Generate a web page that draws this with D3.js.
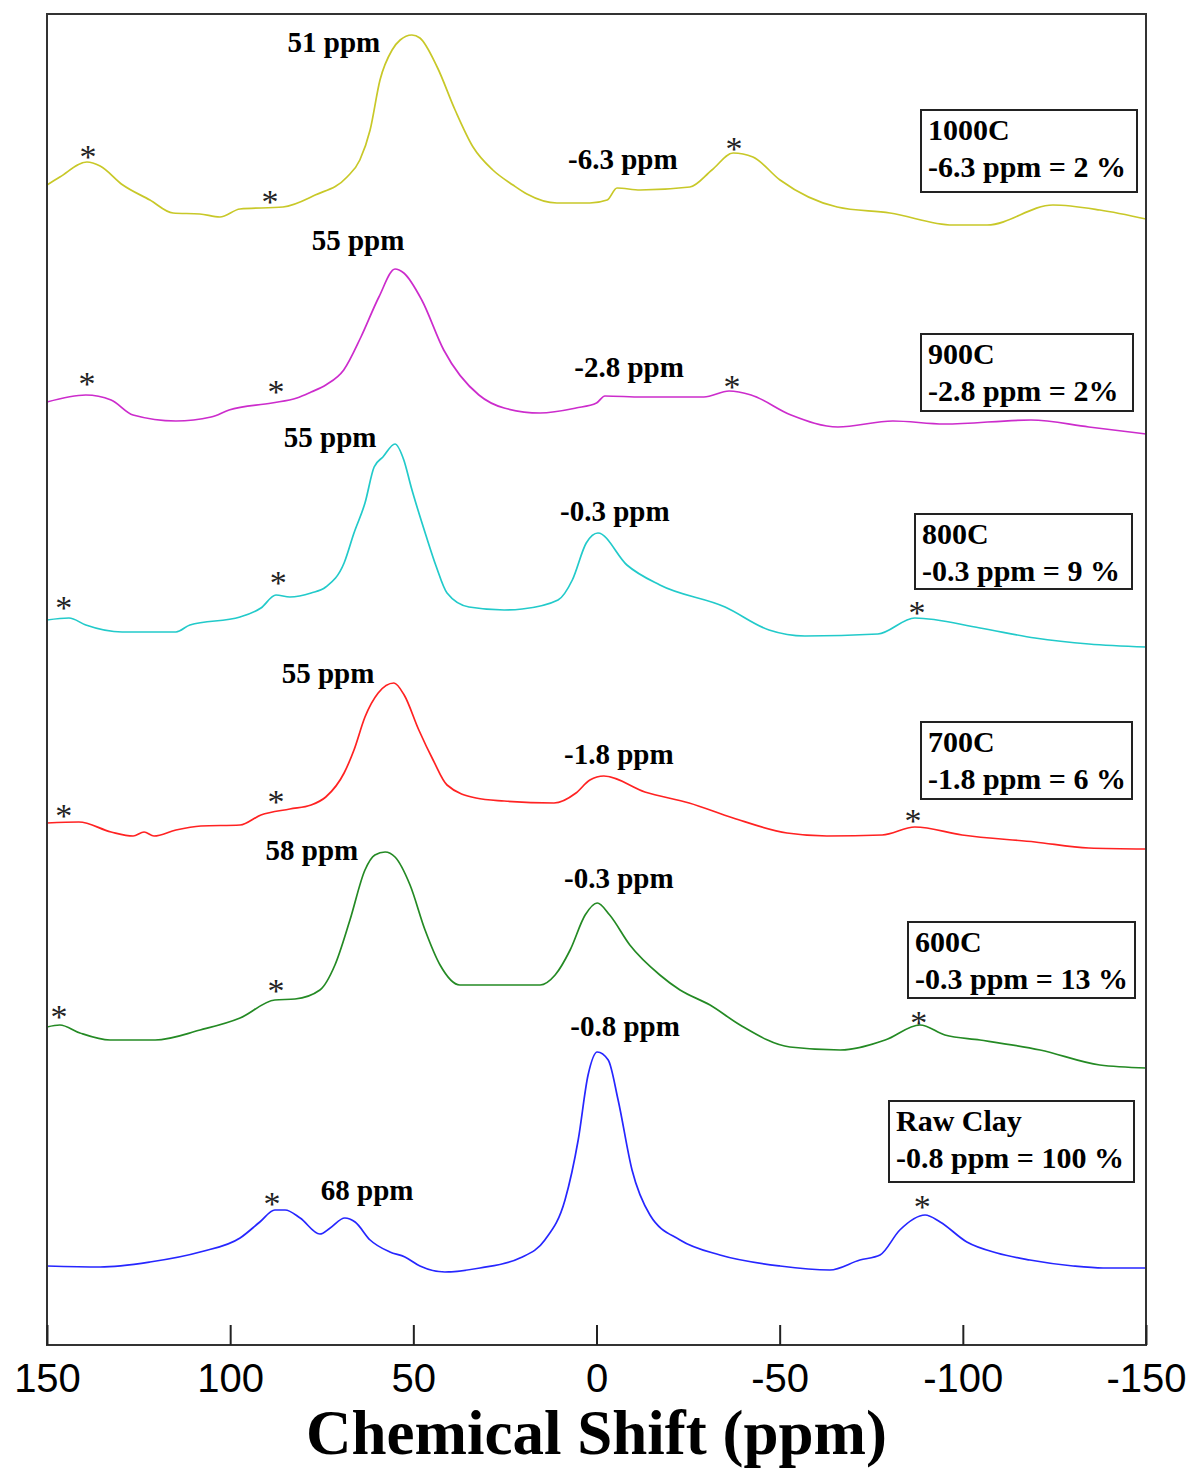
<!DOCTYPE html>
<html>
<head>
<meta charset="utf-8">
<script src="https://cdn.jsdelivr.net/npm/d3@7"></script>
<style>
  body { margin: 0; background: #fff; }
</style>
</head>
<body>
<svg id="nmr" width="1191" height="1473"></svg>
<script>
// 29Si NMR spectra, intensity relative to each trace's own baseline (a.u.)
const s1000 = [[150,40],[146.5,48],[139.1,63],[135.5,59],[129.3,40],[121.9,25],[115.6,12],[108.3,11],[102.8,8],[97.3,16],[85.6,18],[76.8,30],[68.1,48],[64.6,65],[61.8,95],[59.1,145],[55.8,175],[53.6,185],[50.4,190],[48.2,187],[43.5,158],[38.6,115],[33.7,78],[28.3,55],[22.8,40],[19.0,31],[10.8,22],[1.8,22],[-2.9,25],[-5.6,37],[-11.9,35],[-25.5,38],[-31.5,55],[-37.3,72],[-42.7,68],[-50.1,45],[-65.7,18],[-80.1,12],[-97.3,0],[-106.6,0],[-124.6,20],[-137.4,15],[-150,6]];
const s900 = [[150,33],[139.4,40],[132.5,35],[126.5,20],[114.8,14],[105.2,18],[100.3,25],[88.6,32],[81.8,37],[77.9,43],[73.9,50],[69.0,65],[64.3,98],[59.4,138],[55.0,166],[52.6,162],[47.7,135],[41.7,85],[32.1,40],[25.2,27],[15.4,22],[5.6,27],[0,32],[-2.3,39],[-12.4,38],[-29.3,38],[-36.2,44],[-42.2,40],[-53.1,20],[-65.9,8],[-80.9,14],[-94.9,11],[-118.6,15],[-134.4,8],[-150,1]];
const s800 = [[150,28],[144,30],[139.4,23],[129.5,16],[114.8,16],[111.0,23],[97.3,31],[91.6,40],[87.5,53],[83.7,51],[77.9,55],[73.9,61],[68.9,85],[66.2,115],[63.2,145],[60.7,181],[58.3,191],[55.0,204],[52.6,188],[50.6,161],[46.5,112],[43.8,82],[40.8,55],[34.8,41],[25.2,38],[20.3,39],[10.5,48],[6.6,68],[2.8,105],[-0.4,115],[-8.3,83],[-17.3,63],[-35.1,41],[-47.1,18],[-56.9,12],[-76.8,14],[-86.9,30],[-104.7,20],[-119.7,10],[-134.4,4],[-150,1]];
const s700 = [[150,29],[141.3,30],[132.5,20],[126.5,16],[123.5,20],[120.8,16],[114.8,22],[108.0,26],[97.3,27],[91.6,37],[83.7,43],[77.9,47],[73.9,55],[68.9,79],[66.2,102],[63.2,135],[59.6,159],[55.3,169],[52.5,157],[48.5,122],[44.6,92],[40.8,67],[32.9,54],[25.2,51],[11.6,49],[5.6,59],[1.8,72],[-2.0,76],[-13.2,60],[-25.3,49],[-37.3,34],[-52.0,19],[-62.9,16],[-78.0,17],[-86.9,25],[-99.8,17],[-119.7,10],[-134.4,4],[-150,3]];
const s600 = [[150,41],[146.5,43],[141.0,35],[132.8,28],[120.5,28],[108.2,38],[97.3,50],[87.8,68],[82.3,69],[75.5,78],[71.4,103],[67.3,148],[63.2,198],[60.5,213],[57.7,216],[55.0,211],[50.9,183],[46.8,138],[42.7,103],[37.3,83],[26.3,83],[15.4,83],[11.3,93],[7.2,118],[3.1,153],[-0.2,165],[-3.6,153],[-9.1,123],[-17.3,93],[-22.8,78],[-31.0,63],[-39.2,43],[-52.8,21],[-66.5,18],[-78.8,28],[-88.3,43],[-95.1,33],[-104.7,28],[-121.1,18],[-137.4,3],[-150,0]];
const sRaw = [[150,4],[135.5,3],[121.9,8],[108.2,18],[97.3,32],[91.9,48],[87.8,60],[85.0,60],[80.9,52],[75.5,36],[72.7,42],[68.7,52],[65.9,48],[61.8,30],[56.4,18],[52.3,13],[48.2,4],[41.4,-2],[31.8,2],[20.9,12],[14.1,30],[8.6,70],[5.0,130],[2.3,195],[-0.2,218],[-3.2,210],[-5.9,170],[-9.7,100],[-14.6,55],[-22.8,30],[-33.7,15],[-50.1,4],[-63.7,0],[-71.9,10],[-77.4,15],[-82.8,40],[-89.7,55],[-93.8,48],[-101.1,28],[-109.3,17],[-118.3,10],[-130.1,4],[-138.3,2],[-150,2]];

const seriesNames = ["1000C", "900C", "800C", "700C", "600C", "Raw Clay"];
const seriesData = [s1000, s900, s800, s700, s600, sRaw];
const offsets = [1120, 910, 697, 493, 277, 75];
const colors = ["#c8c828", "#cc2ccc", "#22caca", "#ff2222", "#248a24", "#2626ff"];
const legendLines = ["-6.3 ppm = 2 %", "-2.8 ppm = 2%", "-0.3 ppm = 9 %", "-1.8 ppm = 6 %", "-0.3 ppm = 13 %", "-0.8 ppm = 100 %"];

// peak labels: [ppm, height above baseline, text]
const peakLabels = [
  [[71.7, 173, "51 ppm"], [-7.2, 56, "-6.3 ppm"]],
  [[65.1, 185, "55 ppm"], [-8.9, 58, "-2.8 ppm"]],
  [[72.7, 201, "55 ppm"], [-5.0, 127, "-0.3 ppm"]],
  [[73.3, 169, "55 ppm"], [-6.1, 88, "-1.8 ppm"]],
  [[77.7, 208, "58 ppm"], [-6.1, 180, "-0.3 ppm"]],
  [[-7.8, 234, "-0.8 ppm"], [62.6, 70, "68 ppm"]]
];
// spinning sidebands: [ppm, height above baseline]
const sidebands = [
  [[138.8, 75], [89.1, 30], [-37.5, 83]],
  [[139.1, 58], [87.5, 50], [-37.0, 55]],
  [[145.4, 47], [86.9, 72], [-87.5, 42]],
  [[145.4, 43], [87.5, 57], [-86.4, 38]],
  [[146.7, 58], [87.5, 84], [-88.0, 52]],
  [[88.6, 73], [-88.9, 70]]
];
const xTicks = [150, 100, 50, 0, -50, -100, -150];

// legend box layout
const boxes = [
  {x: 921, y: 110, w: 216, h: 82},
  {x: 921, y: 334, w: 212, h: 77},
  {x: 915, y: 514, w: 217, h: 75},
  {x: 921, y: 722, w: 211, h: 77},
  {x: 908, y: 922, w: 227, h: 76},
  {x: 889, y: 1101, w: 245, h: 81}
];

const svg = d3.select('#nmr');
const margin = ({top: 14, right: 45, bottom: 128, left: 47});
const width = +svg.attr("width");
const height = +svg.attr("height");
const serif = "'Liberation Serif', 'Times New Roman', serif";

const x = d3.scaleLinear()
    .domain([150, -150])
    .range([margin.left, width - margin.right]);

const y = d3.scaleLinear()
    .domain([0, 1331])
    .range([height - margin.bottom, margin.top]);

const line = d3.line()
    .x(d => x(d[0]))
    .y(d => d[1])
    .curve(d3.curveMonotoneX);

// traces
seriesData.forEach((data, i) => {
  svg.append("path")
      .datum(data.map(d => [d[0], y(offsets[i] + d[1])]))
      .attr("fill", "none")
      .attr("stroke", colors[i])
      .attr("stroke-width", 1.7)
      .attr("d", line);
});

// sideband asterisks
sidebands.forEach((list, i) => {
  svg.append("g").selectAll("text")
    .data(list)
    .join("text")
      .attr("x", d => x(d[0]))
      .attr("y", d => y(offsets[i] + d[1]) + 18)
      .attr("text-anchor", "middle")
      .style("font-family", serif)
      .style("font-size", "34px")
      .style("fill", "#222")
      .text("*");
});

// peak labels
peakLabels.forEach((list, i) => {
  svg.append("g").selectAll("text")
    .data(list)
    .join("text")
      .attr("x", d => x(d[0]))
      .attr("y", d => y(offsets[i] + d[1]))
      .attr("text-anchor", "middle")
      .style("font-family", serif)
      .style("font-weight", "bold")
      .style("font-size", "29px")
      .style("fill", "#000")
      .text(d => d[2]);
});

// legend boxes
boxes.forEach((b, i) => {
  const g = svg.append("g");
  g.append("rect")
      .attr("x", b.x).attr("y", b.y)
      .attr("width", b.w).attr("height", b.h)
      .attr("fill", "#fff")
      .attr("stroke", "#222")
      .attr("stroke-width", 2);
  g.selectAll("text")
    .data([seriesNames[i], legendLines[i]])
    .join("text")
      .attr("x", b.x + 7)
      .attr("y", (d, j) => b.y + 30 + j * 37)
      .style("font-family", serif)
      .style("font-weight", "bold")
      .style("font-size", "30px")
      .style("fill", "#000")
      .text(d => d);
});

// frame
svg.append("rect")
    .attr("x", margin.left)
    .attr("y", margin.top)
    .attr("width", x(-150) - x(150))
    .attr("height", y(0) - y(1331))
    .attr("fill", "none")
    .attr("stroke", "#333")
    .attr("stroke-width", 2);

// x axis, ticks pointing inward
const xAxis = g => g
    .attr("transform", `translate(0,${height - margin.bottom})`)
    .call(d3.axisBottom(x).tickValues(xTicks).tickSize(-20).tickPadding(20).tickFormat(d => String(d)))
    .call(g => g.select(".domain").remove())
    .call(g => g.selectAll(".tick line").attr("stroke", "#222").attr("stroke-width", 2))
    .call(g => g.selectAll(".tick text")
        .attr("fill", "#000")
        .attr("dy", "0.68em")
        .style("font-family", "'Liberation Sans', Arial, sans-serif")
        .style("font-size", "40px"));

svg.append("g").call(xAxis);

svg.append("text")
    .attr("x", (x(150) + x(-150)) / 2)
    .attr("y", 1454)
    .attr("text-anchor", "middle")
    .style("font-family", serif)
    .style("font-weight", "bold")
    .style("font-size", "63px")
    .style("fill", "#000")
    .text("Chemical Shift (ppm)");
</script>
</body>
</html>
